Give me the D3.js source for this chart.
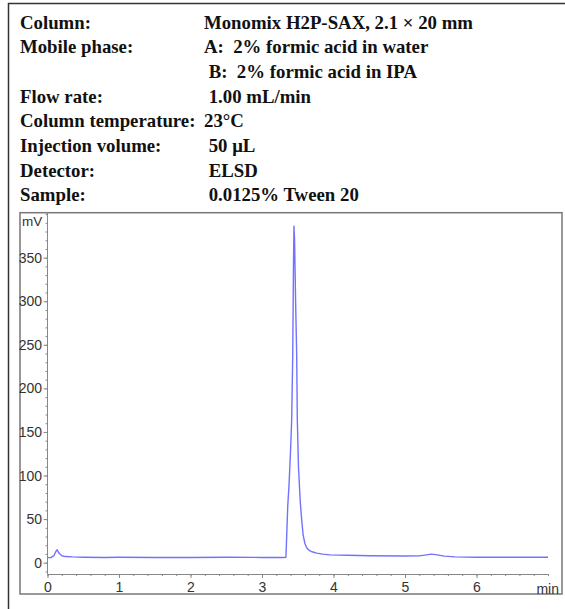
<!DOCTYPE html>
<html>
<head>
<meta charset="utf-8">
<script src="https://cdn.jsdelivr.net/npm/d3@7"></script>
<style>
  body { margin: 0; background: #fff; }
  svg { display: block; }
</style>
</head>
<body>
<svg id="chart" width="565" height="609"></svg>
<script>
// conditions block
var infoLabels = ["Column:", "Mobile phase:", "", "Flow rate:", "Column temperature:", "Injection volume:", "Detector:", "Sample:"];
var infoValues = ["Monomix H2P-SAX, 2.1 \u00d7 20 mm", "A:  2% formic acid in water", " B:  2% formic acid in IPA", " 1.00 mL/min", "23\u00b0C", " 50 \u03bcL", " ELSD", " 0.0125% Tween 20"];

// chromatogram (min, mV)
var times = [0.00, 0.05, 0.09, 0.115, 0.135, 0.16, 0.20, 0.25, 0.35, 0.50, 0.80, 1.00, 1.50, 2.00, 2.50, 3.00, 3.30,
  3.335, 3.345, 3.36, 3.378, 3.40, 3.415, 3.43, 3.44, 3.447, 3.455, 3.47, 3.485, 3.494, 3.51, 3.535, 3.555, 3.575,
  3.60, 3.625, 3.66, 3.70, 3.765, 3.85, 3.95, 4.20, 4.50, 5.00, 5.20, 5.30, 5.37, 5.45, 5.55, 5.70, 6.00, 6.50, 7.00];
var signal = [5.8, 6.0, 8.0, 12.5, 14.8, 11.0, 8.0, 7.0, 6.6, 6.3, 6.0, 6.2, 6.0, 6.0, 6.2, 6.0, 5.9,
  6.2, 30, 65, 89, 130, 164, 239, 340, 386, 372, 300, 239, 164, 110, 70, 49, 32,
  22, 17, 14, 12.5, 11, 9.8, 9.0, 8.5, 8.0, 7.7, 7.8, 9.0, 9.8, 9.0, 7.5, 6.7, 6.3, 6.2, 6.3];

var xTicks = [0, 1, 2, 3, 4, 5, 6];
var yTicks = [0, 50, 100, 150, 200, 250, 300, 350];
var xUnit = "min", yUnit = "mV";

var svg = d3.select("#chart");
var sans = "'Liberation Sans', Arial, sans-serif";

// outer frame (left and top edges show)
svg.append("path").attr("d", "M8.5,609V3.5H565")
  .attr("fill", "none").attr("stroke", "#333").attr("stroke-width", 1.5);

var info = svg.append("g")
  .attr("font-family", "'Liberation Serif', 'Times New Roman', serif")
  .attr("font-weight", "bold").attr("font-size", 18.8).attr("fill", "#111");
infoLabels.forEach(function(t, i) {
  var y = 28.5 + i * 24.7;
  info.append("text").attr("x", 20).attr("y", y).text(t);
  info.append("text").attr("x", 204).attr("y", y).attr("xml:space", "preserve").text(infoValues[i]);
});

// plot frame
svg.append("rect").attr("x", 20).attr("y", 212.7).attr("width", 542).attr("height", 381.3)
  .attr("fill", "none").attr("stroke", "#777").attr("stroke-width", 1.5);

var x = d3.scaleLinear().domain([0, 7]).range([47.5, 548]);
var y = d3.scaleLinear().domain([-13, 401.6]).range([574, 212.7]);

var axisCol = "#888";
var gx = svg.append("g").attr("transform", "translate(0," + y(-13) + ")");
gx.call(d3.axisBottom(x).tickValues(d3.range(0, 7.01, 0.2)).tickSize(2).tickFormat(""));
gx.select(".domain").attr("stroke", axisCol);
gx.selectAll(".tick line").attr("stroke", axisCol);
var gx2 = svg.append("g").attr("transform", "translate(0," + y(-13) + ")");
gx2.call(d3.axisBottom(x).tickValues(xTicks).tickSize(4).tickPadding(4).tickFormat(d3.format("d")));
gx2.select(".domain").remove();
gx2.selectAll(".tick line").attr("stroke", axisCol);
gx2.selectAll("text").attr("font-family", sans).attr("font-size", 14).attr("fill", "#333");

var gy = svg.append("g").attr("transform", "translate(" + x(0) + ",0)");
gy.call(d3.axisLeft(y).tickValues(d3.range(-10, 401, 10)).tickSize(2).tickFormat(""));
gy.select(".domain").attr("stroke", axisCol).attr("d", "M0," + y(-13) + "V" + y(401.6));
gy.selectAll(".tick line").attr("stroke", axisCol);
var gy2 = svg.append("g").attr("transform", "translate(" + x(0) + ",0)");
gy2.call(d3.axisLeft(y).tickValues(yTicks).tickSize(4).tickPadding(1.5));
gy2.select(".domain").remove();
gy2.selectAll(".tick line").attr("stroke", axisCol);
gy2.selectAll("text").attr("font-family", sans).attr("font-size", 14).attr("fill", "#333");

svg.append("text").attr("x", 22).attr("y", 226).attr("font-family", sans)
  .attr("font-size", 13.5).attr("fill", "#333").text(yUnit);
svg.append("text").attr("x", 559).attr("y", 594).attr("text-anchor", "end")
  .attr("font-family", sans).attr("font-size", 14).attr("fill", "#333").text(xUnit);

var line = d3.line().x(function(d, i) { return x(times[i]); }).y(function(d) { return y(d); });
svg.append("path").datum(signal).attr("d", line)
  .attr("fill", "none").attr("stroke", "#7272ff").attr("stroke-width", 1.4).attr("stroke-linejoin", "round");
</script>
</body>
</html>
